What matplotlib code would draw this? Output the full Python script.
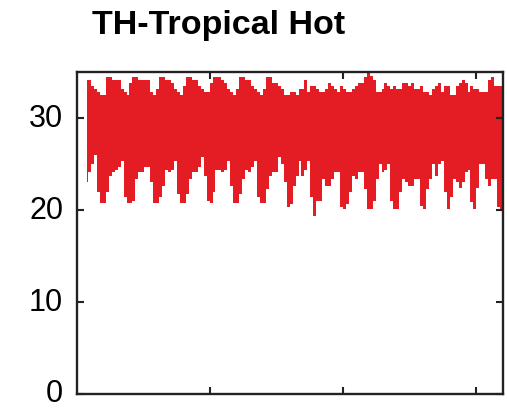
import numpy as np
import matplotlib
matplotlib.use('Agg')
import matplotlib.pyplot as plt
import matplotlib.transforms as mtransforms

plt.rcParams['font.family'] = ['Liberation Sans', 'DejaVu Sans']

# daily max / min temperature envelope (deg C)
t_max = [34.13, 34.13, 33.48, 33.15, 32.83, 32.5, 32.5, 34.42, 34.42, 34.13, 34.13, 34.13, 33.15, 32.83, 32.5, 33.8, 34.42, 34.42, 34.13, 34.13, 34.13,
         34.13, 32.83, 32.5, 33.15, 34.42, 34.42, 34.13, 34.13, 33.8, 33.15, 32.83, 32.5, 33.48, 34.42, 34.42, 34.13, 34.13, 33.48, 33.15, 32.83, 32.83, 33.8, 34.42, 34.42,
         34.42, 34.13, 33.8, 33.15, 32.83, 32.5, 33.15, 34.42, 34.42, 34.13, 34.13, 33.48, 33.15, 32.83, 32.5, 33.15, 34.42, 34.42, 33.8, 33.8, 33.48, 33.15, 32.5, 32.5,
         32.83, 32.83, 32.5, 33.15, 33.15, 34.13, 32.83, 33.48, 33.48, 33.15, 32.83, 32.83, 33.15, 33.8, 33.48, 33.15, 32.83, 33.48, 33.15, 32.83, 32.83, 33.15, 33.48, 33.8,
         33.8, 34.42, 35.07, 34.6, 34.13, 32.83, 32.83, 33.15, 33.8, 33.48, 33.15, 33.48, 33.15, 33.15, 33.8, 33.8, 33.48, 33.8, 33.15, 33.15, 33.48, 32.83, 32.83, 32.5,
         33.15, 33.48, 33.8, 32.83, 33.48, 33.48, 32.5, 32.5, 33.48, 33.8, 34.13, 33.8, 32.83, 33.48, 33.15, 33.15, 32.83, 32.83, 32.83, 34.13, 34.42, 33.48, 33.48, 33.48]
t_min = [23.01, 24.09, 25.0, 26.01, 21.99, 20.72, 20.72, 21.99, 23.73, 24.09, 24.35, 24.64, 25.36, 21.38, 20.72, 20.72, 21.01, 23.37, 24.09, 24.09, 24.64,
         24.71, 23.01, 20.72, 20.72, 21.38, 22.64, 24.35, 24.09, 24.35, 25.36, 21.74, 20.72, 20.72, 21.74, 23.37, 24.09, 24.09, 24.64, 25.72, 23.73, 21.01, 20.72, 21.99, 24.35,
         24.35, 24.09, 24.35, 25.36, 22.64, 20.72, 20.72, 21.74, 23.37, 24.35, 24.09, 24.64, 25.36, 21.38, 20.72, 20.72, 22.28, 23.73, 24.09, 24.09, 25.72, 25.0, 23.01, 20.36,
         20.65, 22.64, 23.73, 25.36, 23.73, 24.35, 25.36, 21.38, 19.38, 21.01, 21.01, 23.37, 22.64, 22.64, 23.37, 24.09, 24.09, 20.36, 20.11, 20.65, 21.99, 23.73, 23.37, 24.09,
         24.09, 22.28, 20.11, 20.11, 21.01, 23.37, 25.0, 24.09, 24.35, 25.0, 21.01, 20.11, 20.11, 21.99, 23.37, 23.01, 22.64, 22.64, 23.37, 23.37, 20.47, 20.11, 22.28, 23.37,
         25.0, 23.73, 25.0, 25.36, 21.99, 20.11, 21.38, 23.37, 23.01, 22.39, 23.01, 24.09, 24.35, 20.83, 20.11, 22.39, 25.0, 25.0, 23.37, 22.64, 23.37, 23.37, 20.29, 20.11]

day_start = 7.1
day_step = 2.23
days = day_start + day_step * np.arange(len(t_max))

y_ticks = [0, 10, 20, 30]
x_ticks = [100, 200, 300]

fig = plt.figure(figsize=(5.07, 4.10), dpi=100)
ax = fig.add_axes([0.152, 0.0366, 0.84, 0.785])

ax.fill_between(days, t_min, t_max, step='mid', color='#e31d23', lw=0)

ax.set_xlim(0, 320.3)
ax.set_ylim(0, 35)
ax.set_yticks(y_ticks)
ax.set_xticks(x_ticks)
ax.set_xticklabels([])
ax.tick_params(direction='in', length=5, width=1.5, color='#222222',
               top=True, right=True, labelsize=22, pad=10)
for s in ax.spines.values():
    s.set_linewidth(1.7)
    s.set_color('#222222')

# labels sit a few pixels above their ticks, like the original
lift = mtransforms.ScaledTranslation(0, 4 / 100, fig.dpi_scale_trans)
for lab in ax.get_yticklabels():
    lab.set_transform(lab.get_transform() + lift)

fig.text(92 / 507, 1 - 34 / 410, 'TH-Tropical Hot', fontsize=24.5,
         fontweight='bold', ha='left', va='baseline')

fig.savefig('out.png', dpi=100)
